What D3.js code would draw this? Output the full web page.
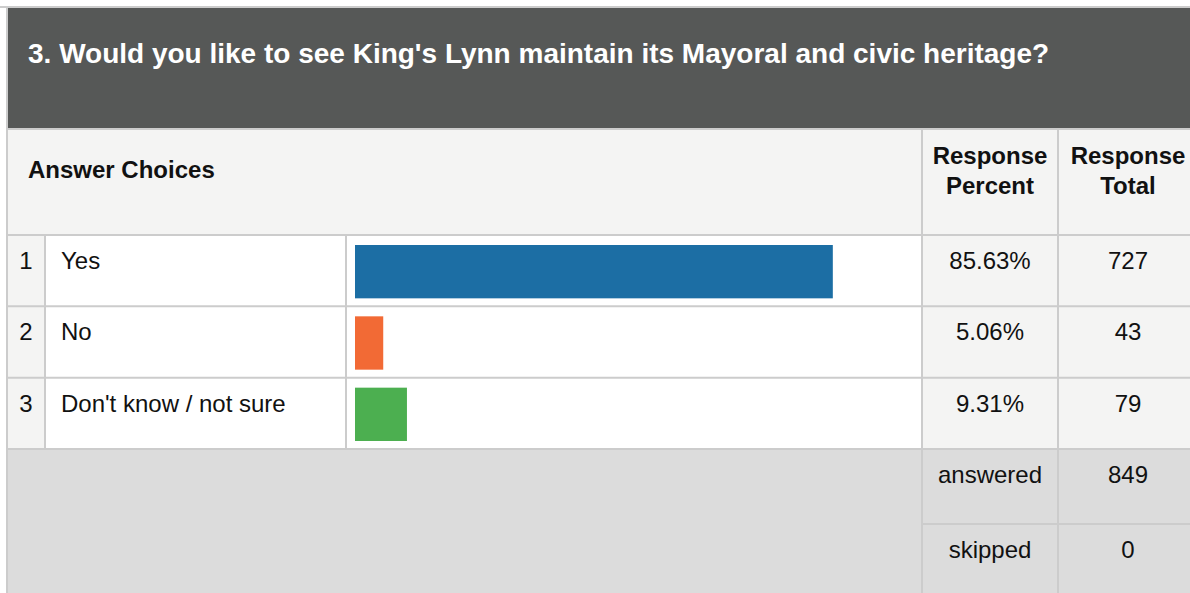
<!DOCTYPE html>
<html lang="en">
<head>
<meta charset="UTF-8">
<script src="https://d3js.org/d3.v7.min.js"></script>
<title>Question 3</title>
<style>
  body { margin: 0; background: #fff; }
  svg { display: block; font-family: "Liberation Sans", Arial, sans-serif; }
  .cell-line { stroke: #cccccc; stroke-width: 2; }
</style>
</head>
<body>
<svg id="s1" width="1190" height="593"></svg>
<script>
const question = "3. Would you like to see King's Lynn maintain its Mayoral and civic heritage?";
const choices = ["Yes", "No", "Don't know / not sure"];
const percents = [85.63, 5.06, 9.31];
const totals = [727, 43, 79];
const barColors = ["#1c6ea4", "#f26a35", "#4caf50"];
const summaryLabels = ["answered", "skipped"];
const summaryValues = [849, 0];

const svg = d3.select("svg#s1");
const W = 1190, H = 593;
const tLeft = 7, tTop = 7;
const titleBottom = 129, headBottom = 235, rowsBottom = 449;
const colNum = 45, colLabel = 346, colPct = 922, colTot = 1058;
const fs = 24;

// backgrounds
svg.append("rect").attr("x", tLeft).attr("y", tTop).attr("width", W - tLeft).attr("height", H - tTop)
  .attr("fill", "#f4f4f3");
svg.append("rect").attr("x", tLeft).attr("y", tTop).attr("width", W - tLeft).attr("height", titleBottom - tTop)
  .attr("fill", "#565857");
svg.append("text").attr("x", 28).attr("y", 63).attr("fill", "#fff")
  .attr("font-weight", "bold").attr("font-size", 28).text(question);

// header
svg.append("text").attr("x", 28).attr("y", 178).attr("font-weight", "bold").attr("font-size", fs)
  .attr("fill", "#111").text("Answer Choices");
[["Response", "Percent", (colPct + colTot) / 2], ["Response", "Total", (colTot + W + 8) / 2]].forEach(h => {
  const t = svg.append("text").attr("text-anchor", "middle").attr("font-weight", "bold")
    .attr("font-size", fs).attr("fill", "#111");
  t.append("tspan").attr("x", h[2]).attr("y", 164).text(h[0]);
  t.append("tspan").attr("x", h[2]).attr("y", 194).text(h[1]);
});

// rows
const y = d3.scaleBand().domain(choices).range([headBottom, rowsBottom]);
const x = d3.scaleLinear().domain([0, 100]).range([0, colPct - colLabel - 18]);

const rows = svg.append("g").selectAll("g").data(choices).join("g")
  .attr("transform", d => `translate(0,${y(d)})`);
rows.append("rect").attr("x", colNum).attr("width", colPct - colNum).attr("height", y.bandwidth())
  .attr("fill", "#fff");
rows.append("rect").attr("x", colLabel + 9).attr("y", 10)
  .attr("width", (d, i) => x(percents[i])).attr("height", y.bandwidth() - 18)
  .attr("fill", (d, i) => barColors[i]);
rows.append("text").attr("x", 26).attr("y", 34).attr("text-anchor", "middle").attr("font-size", fs)
  .attr("fill", "#111").text((d, i) => i + 1);
rows.append("text").attr("x", 61).attr("y", 34).attr("font-size", fs).attr("fill", "#111").text(d => d);
rows.append("text").attr("x", (colPct + colTot) / 2).attr("y", 34).attr("text-anchor", "middle")
  .attr("font-size", fs).attr("fill", "#111").text((d, i) => percents[i].toFixed(2) + "%");
rows.append("text").attr("x", (colTot + W + 8) / 2).attr("y", 34).attr("text-anchor", "middle")
  .attr("font-size", fs).attr("fill", "#111").text((d, i) => totals[i]);

// summary
const ys = d3.scaleBand().domain(summaryLabels).range([rowsBottom, rowsBottom + 2 * 75]);
svg.append("rect").attr("x", tLeft).attr("y", rowsBottom).attr("width", W - tLeft).attr("height", H - rowsBottom)
  .attr("fill", "#dcdcdc");
const sum = svg.append("g").selectAll("g").data(summaryLabels).join("g")
  .attr("transform", d => `translate(0,${ys(d)})`);
sum.append("text").attr("x", (colPct + colTot) / 2).attr("y", 34).attr("text-anchor", "middle")
  .attr("font-size", fs).attr("fill", "#111").text(d => d);
sum.append("text").attr("x", (colTot + W + 8) / 2).attr("y", 34).attr("text-anchor", "middle")
  .attr("font-size", fs).attr("fill", "#111").text((d, i) => summaryValues[i]);

// grid lines
const g = svg.append("g");
const hl = (x1, x2, yy) => g.append("line").attr("class", "cell-line").attr("x1", x1).attr("x2", x2).attr("y1", yy).attr("y2", yy);
const vl = (xx, y1, y2) => g.append("line").attr("class", "cell-line").attr("x1", xx).attr("x2", xx).attr("y1", y1).attr("y2", y2);
hl(0, W, tTop);
vl(tLeft, tTop, H);
hl(tLeft, W, titleBottom);
hl(tLeft, W, headBottom);
choices.forEach(d => hl(tLeft, W, y(d) + y.bandwidth()));
hl(colPct, W, ys("skipped"));
vl(colPct, titleBottom, H);
vl(colTot, titleBottom, H);
vl(colNum, headBottom, rowsBottom);
vl(colLabel, headBottom, rowsBottom);
</script>
</body>
</html>
